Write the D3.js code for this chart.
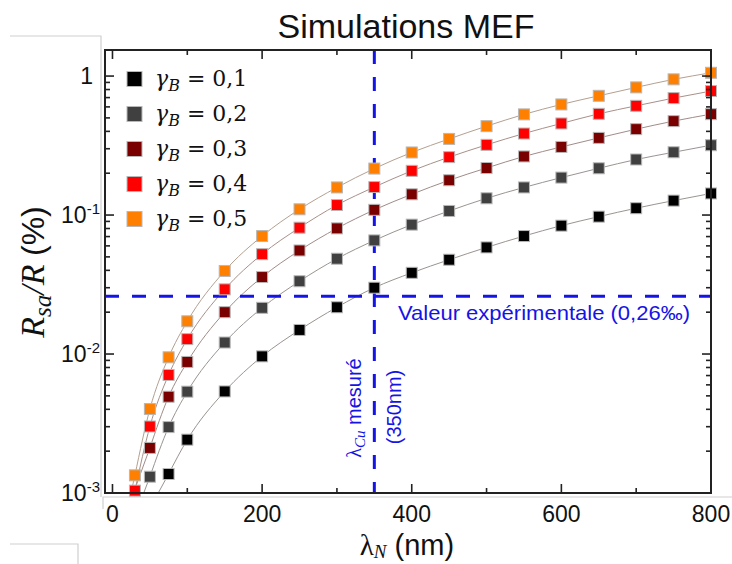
<!DOCTYPE html>
<html>
<head>
<meta charset="utf-8">
<script src="https://cdn.jsdelivr.net/npm/d3@7"></script>
<style>
  html, body { margin: 0; padding: 0; background: #fff; }
  svg { display: block; }
</style>
</head>
<body>
<svg id="chart" width="732" height="564"></svg>
<script>
// ---------------- DATA ----------------
const lambdas = [30, 50, 75, 100, 150, 200, 250, 300, 350, 400, 450, 500, 550, 600, 650, 700, 750, 800];
const seriesNames = ["0,1", "0,2", "0,3", "0,4", "0,5"];
const seriesColors = ["#000000", "#404040", "#7a0000", "#ff0000", "#ff8000"];
const lineColors = ["#9a9490", "#9a9490", "#a08c88", "#a89088", "#b4a090"];
// values in %, null = no point
const gamma01 = [null, null, 0.00137, 0.00242, 0.00538, 0.00962, 0.0149, 0.0217, 0.0300, 0.0384, 0.0477, 0.0585, 0.0706, 0.0839, 0.0974, 0.112, 0.127, 0.143];
const gamma02 = [null, 0.00131, 0.00298, 0.00536, 0.0121, 0.0215, 0.0334, 0.0485, 0.0657, 0.0853, 0.107, 0.132, 0.158, 0.186, 0.217, 0.251, 0.283, 0.318];
const gamma03 = [null, 0.00211, 0.00493, 0.00877, 0.0200, 0.0358, 0.0556, 0.0802, 0.109, 0.141, 0.178, 0.218, 0.264, 0.309, 0.359, 0.415, 0.474, 0.532];
const gamma04 = [0.00104, 0.00301, 0.00707, 0.0128, 0.0292, 0.0523, 0.0811, 0.118, 0.159, 0.208, 0.261, 0.320, 0.386, 0.456, 0.535, 0.611, 0.694, 0.780];
const gamma05 = [0.00134, 0.00402, 0.00947, 0.0172, 0.0396, 0.0706, 0.110, 0.158, 0.216, 0.282, 0.353, 0.436, 0.530, 0.625, 0.721, 0.829, 0.947, 1.056];
const seriesValues = [gamma01, gamma02, gamma03, gamma04, gamma05];

const xTickValues = [0, 200, 400, 600, 800];
const xMinorTicks = [100, 300, 500, 700];
const yMajorTicks = [0.001, 0.01, 0.1, 1];
const yTickLabels = [["10", "-3"], ["10", "-2"], ["10", "-1"], ["1", ""]];
const expValue = 0.026;        // 0,26 ‰ = 0,026 %
const measuredLambda = 350;

// ---------------- LAYOUT ----------------
const svg = d3.select("#chart");
const L = 105, R = 711, T = 50, B = 493;
const x = d3.scaleLinear().domain([-10, 800]).range([L, R]);
const y = d3.scaleLog().domain([0.001, 1.54]).range([B, T]);
const sans = "Liberation Sans, Arial, sans-serif";
const serif = "DejaVu Serif, Liberation Serif, serif";

svg.append("rect").attr("width", 732).attr("height", 564).attr("fill", "#fff");

// faint slide-border artifacts
const deco = svg.append("g").attr("fill", "none").attr("stroke", "#cfcfcf").attr("stroke-width", 1.2);
deco.append("path").attr("d", "M10,36H101V497");
deco.append("path").attr("d", "M103,509V497H732");
deco.append("path").attr("d", "M10,544H78V564");

// title
svg.append("text").attr("x", 406).attr("y", 38).attr("text-anchor", "middle")
  .attr("font-family", sans).attr("font-size", 34)
  .attr("fill", "#111").text("Simulations MEF");

// clip
svg.append("defs").append("clipPath").attr("id", "clip")
  .append("rect").attr("x", L).attr("y", T).attr("width", R - L).attr("height", B - T);

// lines
const lineGen = d3.line().x(d => x(d[0])).y(d => y(d[1])).curve(d3.curveMonotoneX);
const plot = svg.append("g").attr("clip-path", "url(#clip)");
seriesValues.forEach((vals, i) => {
  const pts = lambdas.map((l, j) => [l, vals[j]]).filter(d => d[1] != null);
  plot.append("path").attr("d", lineGen(pts)).attr("fill", "none")
    .attr("stroke", lineColors[i]).attr("stroke-width", 1);
  // continue the first segment down to the axis
  const p0 = [x(pts[0][0]), y(pts[0][1])], p1 = [x(pts[1][0]), y(pts[1][1])];
  const t = (B + 5 - p0[1]) / (p0[1] - p1[1]);
  plot.append("line").attr("x1", p0[0]).attr("y1", p0[1])
    .attr("x2", p0[0] - t * (p1[0] - p0[0])).attr("y2", B + 5)
    .attr("stroke", lineColors[i]).attr("stroke-width", 1);
});

// dashed reference lines
const blue = "#1414e6";
svg.append("line").attr("x1", L).attr("x2", R).attr("y1", y(expValue)).attr("y2", y(expValue))
  .attr("stroke", blue).attr("stroke-width", 3).attr("stroke-dasharray", "14,13");
svg.append("line").attr("x1", x(measuredLambda)).attr("x2", x(measuredLambda)).attr("y1", T).attr("y2", B)
  .attr("stroke", blue).attr("stroke-width", 3).attr("stroke-dasharray", "14,13");

// markers
seriesValues.forEach((vals, i) => {
  const pts = lambdas.map((l, j) => [l, vals[j]]).filter(d => d[1] != null);
  svg.append("g").selectAll("rect").data(pts).join("rect")
    .attr("x", d => x(d[0]) - 5.5).attr("y", d => y(d[1]) - 5.5)
    .attr("width", 11).attr("height", 11)
    .attr("fill", seriesColors[i]).attr("stroke", "#b8b8b8").attr("stroke-width", 1);
});

// frame
svg.append("rect").attr("x", L).attr("y", T).attr("width", R - L).attr("height", B - T)
  .attr("fill", "none").attr("stroke", "#222").attr("stroke-width", 2);

// ticks
const tk = svg.append("g").attr("stroke", "#222").attr("stroke-width", 1.6);
xTickValues.forEach(v => {
  tk.append("line").attr("x1", x(v)).attr("x2", x(v)).attr("y1", B).attr("y2", B - 9);
  tk.append("line").attr("x1", x(v)).attr("x2", x(v)).attr("y1", T).attr("y2", T + 9);
});
xMinorTicks.forEach(v => {
  tk.append("line").attr("x1", x(v)).attr("x2", x(v)).attr("y1", B).attr("y2", B - 5);
  tk.append("line").attr("x1", x(v)).attr("x2", x(v)).attr("y1", T).attr("y2", T + 5);
});
yMajorTicks.forEach(v => {
  tk.append("line").attr("y1", y(v)).attr("y2", y(v)).attr("x1", L).attr("x2", L + 9);
  tk.append("line").attr("y1", y(v)).attr("y2", y(v)).attr("x1", R).attr("x2", R - 9);
});
yMajorTicks.slice(0, 3).forEach(v => {
  for (let k = 2; k <= 9; k++) {
    const yy = y(v * k);
    tk.append("line").attr("y1", yy).attr("y2", yy).attr("x1", L).attr("x2", L + 5);
    tk.append("line").attr("y1", yy).attr("y2", yy).attr("x1", R).attr("x2", R - 5);
  }
});

// x tick labels
svg.append("g").selectAll("text").data(xTickValues).join("text")
  .attr("x", d => x(d)).attr("y", 522).attr("text-anchor", "middle")
  .attr("font-family", sans).attr("font-size", 23)
  .attr("fill", "#111").text(d => d);

// y tick labels
yMajorTicks.forEach((v, i) => {
  const lab = yTickLabels[i];
  const t = svg.append("text").attr("y", y(v) + 8)
    .attr("x", lab[1] ? 100 : 93).attr("text-anchor", "end")
    .attr("font-family", sans).attr("font-size", 23).attr("fill", "#111");
  t.append("tspan").text(lab[0]);
  if (lab[1]) t.append("tspan").attr("font-size", 15).attr("dy", -9).text(lab[1]);
});

// legend
seriesNames.forEach((n, i) => {
  const cy = 79 + i * 35;
  svg.append("rect").attr("x", 127).attr("y", cy - 7.5).attr("width", 15).attr("height", 15)
    .attr("fill", seriesColors[i]).attr("stroke", "#b8b8b8").attr("stroke-width", 1);
  const t = svg.append("text").attr("x", 155).attr("y", cy + 7)
    .attr("font-family", serif).attr("font-size", 22).attr("fill", "#111");
  t.append("tspan").attr("font-style", "italic").text("γ");
  t.append("tspan").attr("font-style", "italic").attr("font-size", 16).attr("dy", 5).text("B");
  t.append("tspan").attr("dy", -5).text(" = " + n);
});

// axis titles
const yl = svg.append("text").attr("transform", "translate(44,272) rotate(-90)")
  .attr("text-anchor", "middle").attr("font-size", 34).attr("fill", "#111");
yl.append("tspan").attr("font-family", "Liberation Serif, serif").attr("font-style", "italic").text("R");
yl.append("tspan").attr("font-family", "Liberation Serif, serif").attr("font-style", "italic").attr("font-size", 25).attr("dy", 7).text("sa");
yl.append("tspan").attr("font-family", "Liberation Serif, serif").attr("font-style", "italic").attr("dy", -7).text("/R ");
yl.append("tspan").attr("font-family", sans).attr("font-size", 32).text("(%)");

const xl = svg.append("text").attr("x", 407).attr("y", 555)
  .attr("text-anchor", "middle").attr("font-size", 29).attr("fill", "#111");
xl.append("tspan").attr("font-family", "Liberation Serif, serif").text("λ");
xl.append("tspan").attr("font-family", "Liberation Serif, serif").attr("font-style", "italic").attr("font-size", 19).attr("dy", 3).text("N");
xl.append("tspan").attr("font-family", sans).attr("dy", -3).text(" (nm)");

// annotations
svg.append("text").attr("x", 398).attr("y", 320)
  .attr("font-family", sans).attr("font-size", 21)
  .attr("textLength", 292).attr("lengthAdjust", "spacingAndGlyphs")
  .attr("fill", blue).text("Valeur expérimentale (0,26‰)");

const a1 = svg.append("text").attr("transform", `translate(${x(measuredLambda) - 13},408) rotate(-90)`)
  .attr("text-anchor", "middle").attr("font-family", sans)
  .attr("font-size", 20).attr("fill", blue);
a1.append("tspan").attr("font-family", "Liberation Serif, serif").text("λ");
a1.append("tspan").attr("font-family", "Liberation Serif, serif").attr("font-style", "italic").attr("font-size", 15).attr("dy", 4).text("Cu");
a1.append("tspan").attr("dy", -4).text(" mesuré");

svg.append("text").attr("transform", `translate(${x(measuredLambda) + 27},407) rotate(-90)`)
  .attr("text-anchor", "middle").attr("font-family", sans)
  .attr("font-size", 20).attr("fill", blue).text("(350nm)");
</script>
</body>
</html>
